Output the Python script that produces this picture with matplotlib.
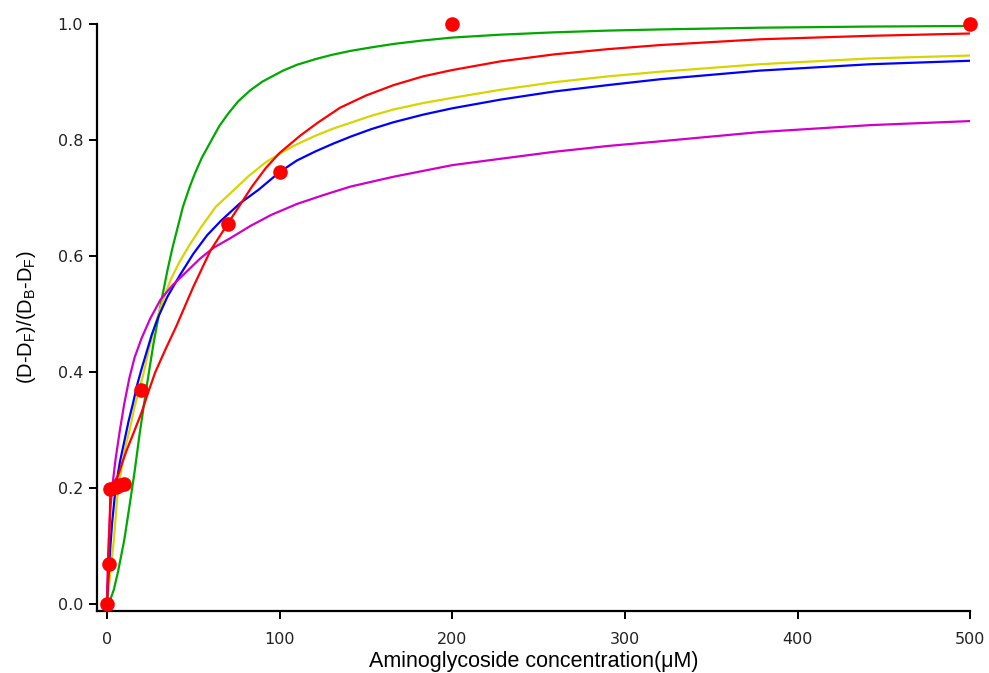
import matplotlib
matplotlib.use("Agg")
import matplotlib.pyplot as plt

# Measured binding data: normalised signal vs aminoglycoside concentration (uM)
conc_data = [0, 1, 2, 5, 7.5, 10, 20, 70, 100, 200, 500]
signal_data = [0.0, 0.07, 0.198, 0.202, 0.205, 0.207, 0.37, 0.655, 0.745, 1.0, 1.0]

# Model curves (sampled)
green_x = [0, 2, 4, 6.5, 10, 13, 16, 19, 23, 27, 32, 35, 38, 44, 48, 51, 55, 60, 65,
           70, 76, 83, 90, 102, 110, 121, 130, 141, 153, 166, 183, 200, 228, 259,
           290, 320, 378, 442, 500]
green_y = [0, 0.008, 0.025, 0.057, 0.11, 0.168, 0.228, 0.295, 0.375, 0.45, 0.53,
           0.575, 0.615, 0.685, 0.72, 0.743, 0.77, 0.797, 0.824, 0.845, 0.867, 0.886,
           0.901, 0.92, 0.93, 0.94, 0.947, 0.954, 0.96, 0.966, 0.972, 0.977,
           0.982, 0.986, 0.989, 0.991, 0.994, 0.996, 0.997]

yellow_x = [0, 1, 2, 4, 6, 8.5, 11, 13.5, 16, 18.5, 21, 24, 28, 32, 37, 42, 48, 55,
            63, 72, 82, 92, 102, 110, 121, 131, 141, 153, 166, 183, 200, 228, 259,
            290, 320, 378, 442, 500]
yellow_y = [0, 0.03, 0.055, 0.11, 0.185, 0.235, 0.275, 0.305, 0.34, 0.368, 0.395,
            0.435, 0.483, 0.52, 0.56, 0.59, 0.62, 0.652, 0.685, 0.71, 0.738, 0.762,
            0.78, 0.793, 0.808, 0.82, 0.83, 0.842, 0.853, 0.864, 0.873, 0.887, 0.9,
            0.91, 0.918, 0.931, 0.941, 0.946]

blue_x = [0, 0.5, 1, 2, 3, 5, 7.5, 10, 12.5, 15, 17.5, 20, 23, 26, 30, 35, 42, 50,
          58, 66, 77, 88, 100, 110, 121, 131, 141, 153, 166, 183, 200, 228, 259, 290,
          320, 378, 442, 500]
blue_y = [0, 0.03, 0.055, 0.1, 0.14, 0.2, 0.245, 0.28, 0.315, 0.345, 0.378, 0.405,
          0.435, 0.465, 0.497, 0.53, 0.566, 0.604, 0.636, 0.661, 0.691, 0.715, 0.745,
          0.765, 0.781, 0.794, 0.806, 0.819, 0.831, 0.844, 0.855, 0.87, 0.884, 0.895,
          0.905, 0.92, 0.931, 0.937]

magenta_x = [0, 0.5, 1, 2, 3, 5, 7.5, 10, 13, 16, 20, 25, 31, 38, 45, 54, 62, 72, 83,
             95, 110, 125, 141, 166, 200, 228, 259, 290, 320, 378, 442, 500]
magenta_y = [0, 0.07, 0.11, 0.165, 0.2, 0.25, 0.3, 0.345, 0.39, 0.425, 0.458, 0.492,
             0.525, 0.55, 0.57, 0.596, 0.615, 0.632, 0.652, 0.671, 0.69, 0.705, 0.72,
             0.737, 0.757, 0.768, 0.78, 0.79, 0.798, 0.814, 0.826, 0.833]

red_x = [0, 1, 2, 4, 6.5, 9, 11.5, 15, 20, 24, 28, 34, 40, 50, 60, 70, 77, 84, 92,
         100, 112, 122, 135, 150, 166, 183, 200, 228, 259, 290, 320, 378, 442, 500]
red_y = [0, 0.07, 0.195, 0.21, 0.222, 0.245, 0.266, 0.292, 0.33, 0.366, 0.4, 0.44,
         0.478, 0.547, 0.61, 0.656, 0.688, 0.72, 0.752, 0.778, 0.808, 0.83, 0.856,
         0.877, 0.895, 0.91, 0.921, 0.936, 0.948, 0.957, 0.964, 0.974, 0.98, 0.984]

y_ticks = [0.0, 0.2, 0.4, 0.6, 0.8, 1.0]
y_tick_labels = ["0.0", "0.2", "0.4", "0.6", "0.8", "1.0"]
x_ticks = [0, 100, 200, 300, 400, 500]
x_tick_labels = ["0", "100", "200", "300", "400", "500"]

fig = plt.figure(figsize=(9.89, 6.73), dpi=100)
ax = fig.add_axes([0.098, 0.092, 0.883, 0.872])

lw = 1.6
ax.plot(green_x, green_y, color="#00a800", lw=lw)
ax.plot(yellow_x, yellow_y, color="#d8d400", lw=lw)
ax.plot(blue_x, blue_y, color="#0000ff", lw=lw)
ax.plot(magenta_x, magenta_y, color="#d000c8", lw=lw)
ax.plot(red_x, red_y, color="#ff0000", lw=lw)
ax.plot(conc_data, signal_data, "o", color="#ff0000", ms=9.5, mec="#ff0000",
        clip_on=False, zorder=5)

ax.set_xlim(-5.8, 500)
ax.set_ylim(-0.012, 1.0)

for side in ("top", "right"):
    ax.spines[side].set_visible(False)
for side in ("left", "bottom"):
    ax.spines[side].set_linewidth(1.6)
    ax.spines[side].set_color("black")

ax.set_xticks(x_ticks)
ax.set_xticklabels(x_tick_labels)
ax.set_yticks(y_ticks)
ax.set_yticklabels(y_tick_labels)
ax.tick_params(axis="both", direction="out", length=6, width=1.4, color="black",
               labelsize=11.5, labelcolor="#222222")
ax.tick_params(axis="x", pad=9)
ax.tick_params(axis="y", pad=4)

ax.set_xlabel("Aminoglycoside concentration(\u03bcM)", fontsize=15.5,
              family="Liberation Sans", labelpad=3)
ax.set_ylabel(r"(D-D$_{\mathregular{F}}$)/(D$_{\mathregular{B}}$-D$_{\mathregular{F}}$)",
              fontsize=14.5, family="Liberation Sans", labelpad=14)

fig.savefig("out.png", dpi=100)
